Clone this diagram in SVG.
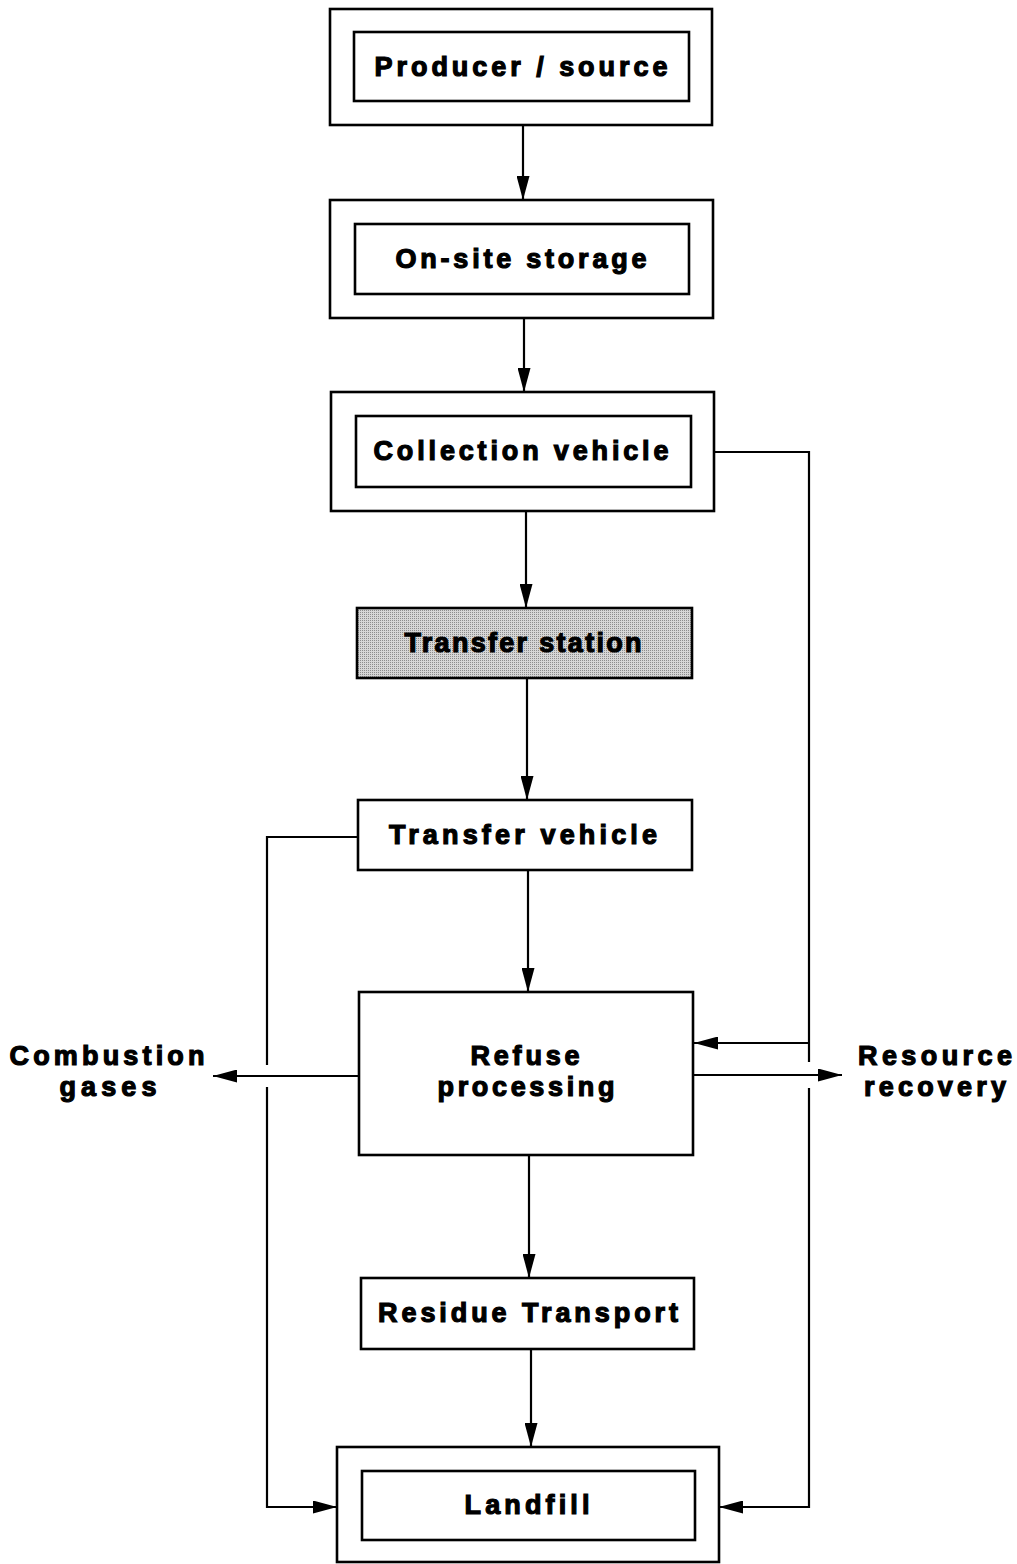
<svg xmlns="http://www.w3.org/2000/svg" width="1017" height="1564" viewBox="0 0 1017 1564">
<style>
.box{fill:#fff;stroke:#000;stroke-width:2.6}
.shade{fill:url(#stip);stroke:#000;stroke-width:2.6}
.lbl{font-family:"Liberation Sans",Arial,sans-serif;font-weight:bold;font-size:27px;fill:#000;stroke:#000;stroke-width:1.2;text-anchor:middle}
.ln{fill:none;stroke:#000;stroke-width:2.2}
</style>
<defs>
<marker id="ah" markerUnits="userSpaceOnUse" markerWidth="24" markerHeight="13" refX="24" refY="6.5" orient="auto">
<path d="M0,0 L24,6.5 L0,13 z" fill="#000"/>
</marker>
<pattern id="stip" width="2" height="2" patternUnits="userSpaceOnUse">
<rect width="2" height="2" fill="#d6d6d6"/>
<rect width="1" height="1" fill="#8c8c8c"/>
</pattern>
</defs>
<rect width="1017" height="1564" fill="#fff"/>

<g id="connectors">
<line class="ln" x1="523" y1="126" x2="523" y2="200" marker-end="url(#ah)"/>
<line class="ln" x1="524" y1="319" x2="524" y2="392" marker-end="url(#ah)"/>
<line class="ln" x1="526" y1="511" x2="526" y2="608" marker-end="url(#ah)"/>
<line class="ln" x1="527" y1="679" x2="527" y2="800" marker-end="url(#ah)"/>
<line class="ln" x1="528" y1="871" x2="528" y2="992" marker-end="url(#ah)"/>
<line class="ln" x1="529" y1="1156" x2="529" y2="1278" marker-end="url(#ah)"/>
<line class="ln" x1="531" y1="1350" x2="531" y2="1447" marker-end="url(#ah)"/>
<polyline class="ln" points="714,452 809,452 809,1062"/>
<line class="ln" x1="809" y1="1043" x2="694" y2="1043" marker-end="url(#ah)"/>
<polyline class="ln" points="809,1088 809,1507 719,1507" marker-end="url(#ah)"/>
<polyline class="ln" points="358,837 267,837 267,1065"/>
<polyline class="ln" points="267,1087 267,1507 337,1507" marker-end="url(#ah)"/>
<line class="ln" x1="359" y1="1076" x2="213" y2="1076" marker-end="url(#ah)"/>
<line class="ln" x1="693" y1="1075" x2="842" y2="1075" marker-end="url(#ah)"/>
</g>

<g id="producer">
<rect class="box" x="330" y="9" width="382" height="116"/>
<rect class="box" x="354" y="32" width="335" height="69"/>
<text class="lbl" x="521" y="76" textLength="293" lengthAdjust="spacing">Producer / source</text>
</g>

<g id="onsite">
<rect class="box" x="330" y="200" width="383" height="118"/>
<rect class="box" x="355" y="224" width="334" height="70"/>
<text class="lbl" x="521" y="268" textLength="251" lengthAdjust="spacing">On-site storage</text>
</g>

<g id="collection">
<rect class="box" x="331" y="392" width="383" height="119"/>
<rect class="box" x="356" y="416" width="335" height="71"/>
<text class="lbl" x="521" y="460" textLength="295" lengthAdjust="spacing">Collection vehicle</text>
</g>

<g id="transferstation">
<rect class="shade" x="357" y="608" width="335" height="70"/>
<text class="lbl" x="523" y="652" textLength="237" lengthAdjust="spacing">Transfer station</text>
</g>

<g id="transfervehicle">
<rect class="box" x="358" y="800" width="334" height="70"/>
<text class="lbl" x="523" y="844" textLength="268" lengthAdjust="spacing">Transfer vehicle</text>
</g>

<g id="refuse">
<rect class="box" x="359" y="992" width="334" height="163"/>
<text class="lbl" x="525" y="1065" textLength="109" lengthAdjust="spacing">Refuse</text>
<text class="lbl" x="526" y="1096" textLength="177" lengthAdjust="spacing">processing</text>
</g>

<g id="combustion">
<text class="lbl" x="107" y="1065" textLength="195" lengthAdjust="spacing">Combustion</text>
<text class="lbl" x="108" y="1096" textLength="97" lengthAdjust="spacing">gases</text>
</g>

<g id="resource">
<text class="lbl" x="935" y="1065" textLength="154" lengthAdjust="spacing">Resource</text>
<text class="lbl" x="935" y="1096" textLength="142" lengthAdjust="spacing">recovery</text>
</g>

<g id="residue">
<rect class="box" x="361" y="1278" width="333" height="71"/>
<text class="lbl" x="528" y="1322" textLength="300" lengthAdjust="spacing">Residue Transport</text>
</g>

<g id="landfill">
<rect class="box" x="337" y="1447" width="382" height="115"/>
<rect class="box" x="362" y="1471" width="333" height="69"/>
<text class="lbl" x="527" y="1514" textLength="125" lengthAdjust="spacing">Landfill</text>
</g>
</svg>
